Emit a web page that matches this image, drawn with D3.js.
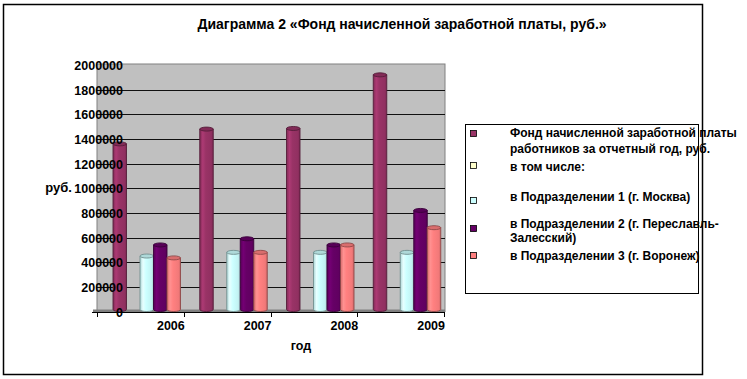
<!DOCTYPE html>
<html><head><meta charset="utf-8">
<script src="https://cdn.jsdelivr.net/npm/d3@7"></script>
<style>
body{margin:0;background:#fff}
text{font-family:"Liberation Sans",Arial,sans-serif;font-weight:bold;fill:#000}
</style>
</head><body><svg id="c" width="747" height="379"></svg>
<script>
const chartTitle = "Диаграмма 2 «Фонд начисленной заработной платы, руб.»";
const years = ["2006", "2007", "2008", "2009"];
const seriesKeys = ["fund", "incl", "moscow", "pereslavl", "voronezh"];
const seriesLabels = [
  ["Фонд начисленной заработной платы", "работников за отчетный год, руб."],
  ["в том числе:"],
  ["в Подразделении 1 (г. Москва)"],
  ["в Подразделении 2 (г. Переславль-", "Залесский)"],
  ["в Подразделении 3 (г. Воронеж)"]
];
const fundValues = [1360000, 1480000, 1485000, 1920000];
const inclValues = [null, null, null, null];
const moscowValues = [450000, 480000, 480000, 480000];
const pereslavlValues = [540000, 590000, 540000, 820000];
const voronezhValues = [435000, 480000, 540000, 680000];
const seriesColors = ["#993366", "#FFFFCC", "#CCFFFF", "#660066", "#FF8080"];
const yTicks = [0, 200000, 400000, 600000, 800000, 1000000, 1200000, 1400000, 1600000, 1800000, 2000000];
const yTitle = "руб.";
const xTitle = "год";

const seriesValues = [fundValues, inclValues, moscowValues, pereslavlValues, voronezhValues];
const svg = d3.select("#c");

// outer frame
svg.append("rect").attr("x", 3.5).attr("y", 4.5).attr("width", 699).attr("height", 370)
  .attr("fill", "#fff").attr("stroke", "#000").attr("stroke-width", 1.5);

// title
svg.append("text").attr("x", 402).attr("y", 29).attr("text-anchor", "middle")
  .style("font-size", "14px").text(chartTitle);

// scales
const wallL = 97, wallR = 445, wallT = 64;
const y = d3.scaleLinear().domain([0, 2000000]).range([311.5, 65]);
const x0 = d3.scaleBand().domain(years).range([97, 444]);
const x1 = d3.scaleBand().domain(seriesKeys).range([16, 83.5]);

// wall
svg.append("rect").attr("x", wallL).attr("y", wallT).attr("width", wallR - wallL).attr("height", y(0) - wallT)
  .attr("fill", "#C0C0C0").attr("stroke", "#808080").attr("stroke-width", 1);
// gridlines
svg.append("g").selectAll("line").data(yTicks.filter(d => d > 0 && d < 2000000)).join("line")
  .attr("x1", wallL).attr("x2", wallR).attr("y1", d => Math.round(y(d)) + 0.5).attr("y2", d => Math.round(y(d)) + 0.5)
  .attr("stroke", "#111").attr("stroke-width", 1);
// floor strip
svg.append("rect").attr("x", 93).attr("y", 309.5).attr("width", wallR - 93).attr("height", 2.5).attr("fill", "#808080");
// category axis line
svg.append("line").attr("x1", 92).attr("x2", wallR).attr("y1", 312.5).attr("y2", 312.5).attr("stroke", "#000");
const bounds = [x0.range()[0]].concat(years.map(yr => x0(yr) + x0.bandwidth()));
svg.append("g").selectAll("line").data(bounds).join("line")
  .attr("x1", d => Math.round(d) + 0.5).attr("x2", d => Math.round(d) + 0.5).attr("y1", 312).attr("y2", 317)
  .attr("stroke", "#000");

// gradients
const defs = svg.append("defs");
seriesColors.forEach((c, i) => {
  const base = d3.color(c);
  const g = defs.append("linearGradient").attr("id", "g" + i).attr("x1", 0).attr("x2", 1).attr("y1", 0).attr("y2", 0);
  g.append("stop").attr("offset", 0).attr("stop-color", base.darker(0.5));
  g.append("stop").attr("offset", 0.22).attr("stop-color", base.brighter(0.35));
  g.append("stop").attr("offset", 0.45).attr("stop-color", base);
  g.append("stop").attr("offset", 0.85).attr("stop-color", base.darker(0.15));
  g.append("stop").attr("offset", 1).attr("stop-color", base.darker(0.6));
});

// bars (cylinders)
const ry = 2;
const barData = [];
seriesKeys.forEach((k, si) => {
  years.forEach((yr, yi) => {
    const v = seriesValues[si][yi];
    if (v != null) barData.push({k, si, yr, v});
  });
});
const bars = svg.append("g").selectAll("g").data(barData).join("g");
bars.each(function(d) {
  const g = d3.select(this);
  const xl = x0(d.yr) + x1(d.k), w = x1.bandwidth(), rx = w / 2;
  const top = y(d.v), bot = y(0) - 2;
  const outline = d3.color(seriesColors[d.si]).darker(1.6);
  g.append("path")
    .attr("d", `M${xl},${top} L${xl},${bot} A${rx},${ry} 0 0 0 ${xl + w},${bot} L${xl + w},${top} Z`)
    .attr("fill", `url(#g${d.si})`).attr("stroke", outline).attr("stroke-width", 0.9);
  g.append("ellipse").attr("cx", xl + rx).attr("cy", top).attr("rx", rx).attr("ry", ry)
    .attr("fill", d3.color(seriesColors[d.si]).darker(0.45)).attr("stroke", outline).attr("stroke-width", 0.9);
});

// y axis labels
const yAxis = d3.axisLeft(y).tickValues(yTicks).tickSize(0).tickPadding(0).tickFormat(d3.format("d"));
const ya = svg.append("g").attr("transform", "translate(123,0)").call(yAxis);
ya.select(".domain").remove();
ya.selectAll("text").attr("dy", "0.36em").style("font-size", "12.5px")
  .style("font-family", '"Liberation Sans",Arial,sans-serif').style("font-weight", "bold");

// x labels
svg.append("g").selectAll("text").data(years).join("text")
  .attr("x", d => x0(d) + x0.bandwidth() + 1).attr("y", 330).attr("text-anchor", "end")
  .style("font-size", "12.5px").text(d => d);

// axis titles
svg.append("text").attr("x", 72).attr("y", 192).attr("text-anchor", "end").style("font-size", "13px").text(yTitle);
svg.append("text").attr("x", 301).attr("y", 350).attr("text-anchor", "middle").style("font-size", "12.5px").text(xTitle);

// legend
svg.append("rect").attr("x", 465.5).attr("y", 124.5).attr("width", 233).attr("height", 169)
  .attr("fill", "#fff").attr("stroke", "#000");
const markerY = [130, 162, 197, 225, 252];
const textY = [[137, 153], [171], [201], [228, 242], [260]];
const lg = svg.append("g");
seriesKeys.forEach((k, i) => {
  lg.append("rect").attr("x", 470.5).attr("y", markerY[i] + 0.5).attr("width", 6).attr("height", 6)
    .attr("fill", seriesColors[i]).attr("stroke", "#000").attr("stroke-width", 0.8);
  seriesLabels[i].forEach((line, j) => {
    lg.append("text").attr("x", 510).attr("y", textY[i][j]).style("font-size", "12px").text(line);
  });
});
</script>
</body></html>
